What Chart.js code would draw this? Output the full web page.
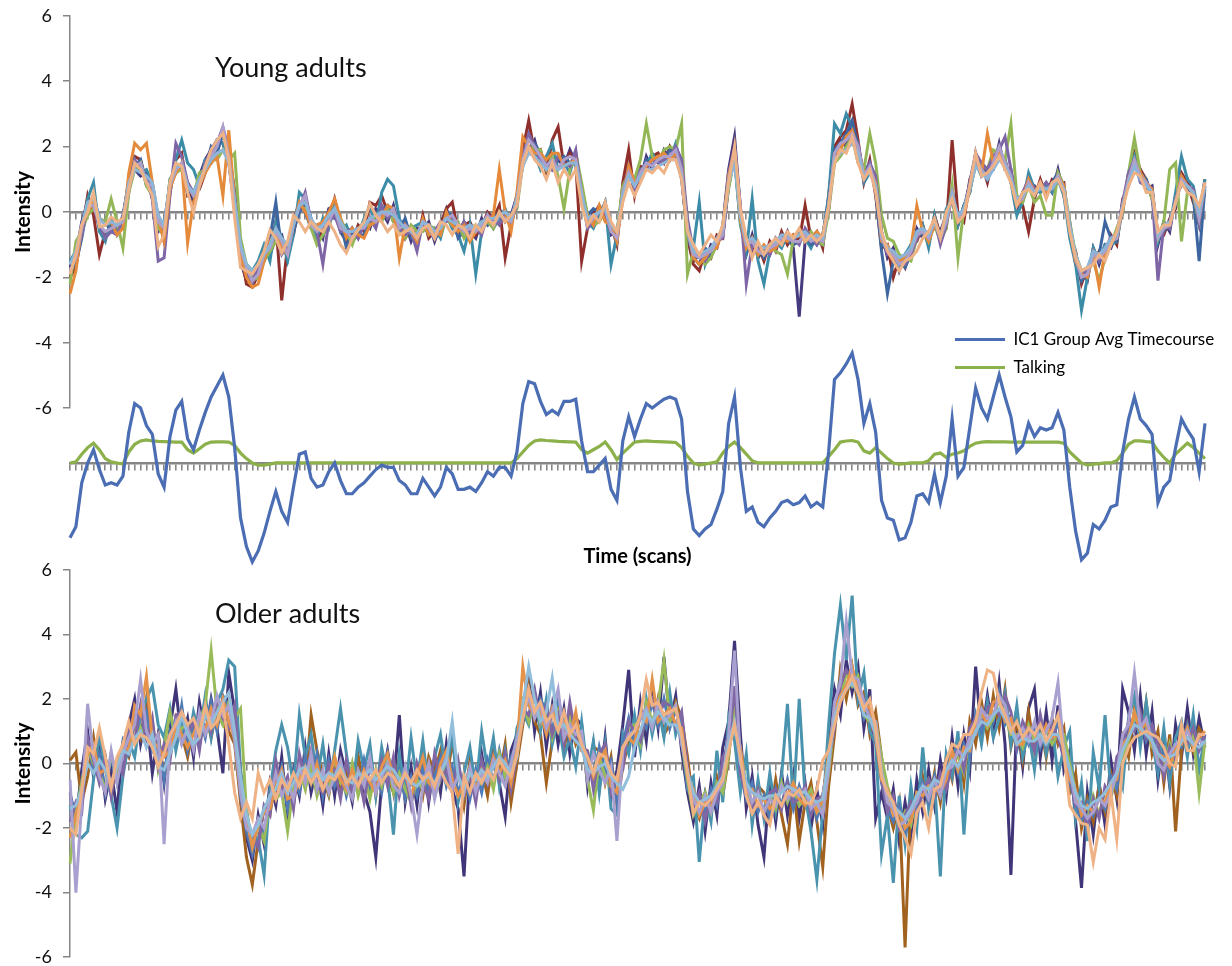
<!DOCTYPE html>
<html>
<head>
<meta charset="utf-8">
<title>IC1 timecourses</title>
<script src="https://cdn.jsdelivr.net/npm/chart.js@4.4.0/dist/chart.umd.min.js"></script>
<style>
  html, body { margin: 0; padding: 0; background: #ffffff; overflow: hidden; }
  canvas { position: absolute; left: 0; }
  #youngChart { top: -6px; }
  #ic1Chart { top: 320px; }
  #olderChart { top: 548px; }
</style>
</head>
<body>
<canvas id="youngChart" width="1232" height="436"></canvas>
<canvas id="ic1Chart" width="1232" height="249"></canvas>
<canvas id="olderChart" width="1232" height="431"></canvas>
<script>
"use strict";

// group average IC1 timecourse and the talking regressor (middle panel)
const ic1Avg = [
  -3.4,-2.9,-0.9,0,0.6,-0.3,-1.0,-0.9,-1.0,-0.6, 1.4,2.7,2.5,1.7,1.3,-0.5,-1.1,1.2,2.4,2.8,
  1.1,0.6,1.5,2.3,3.0,3.5,4.0,3.0,0.7,-2.5, -3.8,-4.5,-4.0,-3.2,-2.2,-1.3,-2.2,-2.7,-1.1,0.4,
  0.5,-0.7,-1.1,-1.0,-0.4,0,-0.8,-1.4,-1.4,-1.1, -0.9,-0.6,-0.3,-0.1,-0.2,-0.2,-0.8,-1.0,-1.4,-1.4,
  -0.7,-1.1,-1.5,-1.1,-0.2,-0.5,-1.2,-1.2,-1.1,-1.3, -0.9,-0.4,-0.6,-0.2,-0.2,-0.6,0.5,2.7,3.7,3.6,
  2.8,2.2,2.4,2.2,2.8,2.8,2.9,1.0,-0.4,-0.4, -0.1,0.2,-1.2,-1.7,1.0,2.1,1.2,2.0,2.7,2.5,
  2.7,2.9,3.0,2.9,2.0,-1.3,-3.0,-3.3,-3.0,-2.8, -2.1,-1.3,1.8,3.0,-0.2,-2.2,-2.0,-2.7,-2.9,-2.5,
  -2.2,-1.8,-1.7,-1.9,-1.8,-1.5,-2.0,-1.8,-2.0,0.5, 3.8,4.1,4.5,5.0,3.8,1.8,2.7,1.4,-1.7,-2.5,
  -2.6,-3.5,-3.4,-2.7,-1.5,-1.4,-1.8,-0.5,-1.8,-0.6, 2.0,-0.6,-0.2,1.6,3.4,2.5,2.0,3.0,4.0,3.0,
  2.1,0.5,0.8,1.8,1.2,1.6,1.5,1.6,2.3,1.5, -1.1,-3.1,-4.4,-4.1,-2.8,-3.0,-2.6,-2.0,-1.9,0.5,
  2.0,3.0,2.0,1.7,1.3,-1.8,-1.1,-0.8,0.7,2.0, 1.5,1.1,-0.4,1.8
];
const talking = [
  0,0.05,0.4,0.7,0.9,0.6,0.2,0.05,0,-0.05, 0.5,0.85,1.0,1.05,1.0,0.98,0.97,0.96,0.95,0.95,
  0.6,0.45,0.65,0.85,0.95,0.96,0.96,0.95,0.8,0.45, 0.2,0,-0.1,-0.1,-0.05,0,0,0,0,0,
  0,0,0,0,0,0,0,0,0,0, 0,0,0,0,0,0,0,0,0,0,
  0,0,0,0,0,0,0,0,0,0, 0,0,0,0,0,0,0.2,0.5,0.8,1.0,
  1.05,1.02,1.0,0.98,0.97,0.96,0.95,0.6,0.45,0.6, 0.75,0.95,0.6,0.15,0.45,0.7,0.95,0.98,1.0,0.98,
  0.97,0.96,0.95,0.93,0.7,0.3,0,-0.1,-0.05,0, 0.05,0.45,0.75,0.95,0.7,0.4,0.1,0,0,0,
  0,0,0,0,0,0,0,0,0,0.3, 0.6,0.95,1.0,1.02,0.95,0.55,0.45,0.7,0.45,0.2,
  0,-0.05,-0.03,0,0,0,0.1,0.4,0.45,0.25, 0.4,0.45,0.55,0.75,0.9,0.95,0.97,0.96,0.96,0.96,
  0.95,0.95,0.95,0.95,0.95,0.95,0.95,0.95,0.95,0.9, 0.5,0.25,0,-0.1,-0.05,-0.03,0,0,0.1,0.45,
  0.85,1.0,1.0,0.97,0.95,0.55,0.25,0,0.4,0.65, 0.9,0.7,0.45,0.2
];

// young adults, one array per subject
const young1 = [
  -1.7,-1.3,-0.3,0.3,0.2,-0.5,-0.7,-0.4,-0.6,-0.1, 0.9,1.3,1.1,1.2,0.4,-0.6,-0.4,0.9,1.2,1.4,
  0.9,0.2,1.1,1.6,1.9,2.2,2.1,1.5,0.1,-1.5, -2.1,-1.9,-1.6,-1.2,-1.3,-0.8,-0.7,-1.4,-0.3,0.3,
  0.0,-0.5,-0.4,-0.8,0.1,0.2,-0.6,-0.9,-0.5,-0.8, -0.3,-0.5,0.1,0.0,-0.3,0.2,-0.6,-0.3,-0.9,-0.5,
  -0.5,-0.3,-0.9,-0.4,0.1,-0.4,-0.7,-0.3,-0.6,-0.8, -0.2,-0.4,-0.1,0.1,-0.3,-0.1,0.5,1.8,1.9,2.2,
  1.5,1.6,1.3,1.6,1.4,1.9,1.5,0.8,-0.4,0.0, -0.2,0.3,-0.7,-0.6,0.4,1.5,0.6,1.0,1.7,1.3,
  1.4,1.9,1.6,2.0,1.4,-0.4,-1.5,-1.3,-1.5,-1.0, -1.1,-0.4,1.3,2.3,0.1,-1.3,-0.7,-1.4,-1.1,-1.3,
  -0.8,-1.0,-0.6,-1.1,-3.2,-0.9,-0.7,-1.0,-0.7,0.4, 1.6,2.2,2.0,2.7,1.8,1.3,1.2,1.0,-0.6,-1.4,
  -1.1,-1.8,-1.3,-1.4,-0.5,-0.8,-0.6,-0.5,-0.6,-0.1, 0.4,-0.4,0.2,0.6,1.8,1.1,1.3,1.3,2.1,1.3,
  1.3,0.1,0.6,0.7,0.8,0.6,0.9,0.6,1.3,0.5, -0.3,-1.6,-1.8,-2.1,-1.1,-1.6,-1.0,-1.1,-0.6,0.0,
  1.2,1.4,1.3,0.7,0.8,-1.0,-0.3,-0.6,0.5,0.8, 1.0,0.4,-0.4,0.7
];
const young2 = [
  -2.0,-1.7,-0.6,0.5,-0.1,-1.3,-0.6,-0.6,-0.4,-0.5, 0.6,1.7,1.6,0.9,0.6,-0.1,-0.9,0.6,1.6,1.8,
  0.5,0.6,0.7,1.2,1.7,2.1,2.4,1.9,0.6,-1.1, -2.2,-2.3,-1.9,-1.2,-1.1,-0.3,-2.7,-1.0,-0.7,0.3,
  0.1,-0.2,-0.8,-0.6,-0.3,0.4,-0.3,-0.5,-0.9,-0.4, -0.6,0.3,0.2,0.5,0.0,-0.2,-0.3,-0.8,-0.5,-0.9,
  -0.1,-0.8,-0.6,-0.4,0.1,0.3,-0.6,-0.4,-0.3,-0.7, -0.5,0.0,-0.2,0.2,-1.4,-0.4,0.4,1.9,2.8,1.8,
  1.9,1.2,2.2,2.6,1.4,1.8,1.5,-1.5,-0.5,-0.1, 0.2,-0.1,-0.4,-1.0,0.9,1.9,0.5,1.4,1.3,1.7,
  1.8,1.5,2.0,1.7,1.1,-0.8,-1.6,-1.8,-1.2,-1.4, -0.7,-0.8,0.8,1.7,-0.3,-0.9,-1.2,-1.0,-1.5,-0.9,
  -1.2,-0.6,-1.0,-0.7,-0.9,0.2,-0.8,-0.6,-1.1,0.5, 2.0,2.3,2.5,3.3,2.2,0.9,1.6,0.5,-1.1,-1.0,
  -2.0,-1.4,-1.7,-1.0,-0.9,-0.4,-1.0,-0.1,-0.7,-0.5, 2.2,-0.1,-0.3,1.0,1.4,1.5,0.9,1.7,1.8,1.6,
  0.9,0.5,0.2,-0.6,0.4,1.0,0.5,1.0,0.9,0.9, -0.7,-1.2,-2.2,-1.7,-1.5,-1.2,-1.4,-0.7,-1.0,0.4,
  0.8,1.8,1.3,1.0,0.4,-0.6,-0.7,-0.2,0.1,1.2, 0.9,0.3,-0.1,1.0
];
const young3 = [
  -1.5,-1.2,-0.6,0.4,0.9,-0.6,-0.9,-0.2,-0.7,-0.4, 0.7,1.6,1.2,1.3,0.9,-0.2,-0.4,0.6,1.6,2.2,
  1.5,1.3,0.8,1.6,1.5,2.2,2.1,1.6,0.2,-1.4, -1.6,-1.8,-1.5,-1.0,-1.5,-0.3,-0.8,-1.5,-0.7,0.6,
  0.4,-0.2,-0.8,-0.2,-0.5,0.3,-0.6,-0.4,-0.9,-0.7, -0.2,0.2,-0.4,0.6,1.0,0.8,-0.2,-0.6,-0.5,-0.4,
  -0.3,-0.7,-0.5,-0.8,-0.1,-0.5,-0.7,-1.2,-0.4,-1.9, -0.6,-0.1,-0.5,-0.2,0.1,-0.4,0.5,1.4,2.0,1.8,
  1.3,1.7,2.1,1.3,1.5,1.2,1.8,0.4,-0.3,-0.5, -0.1,0.3,-1.6,-0.7,0.5,1.0,1.0,1.3,1.4,1.8,
  1.5,1.8,1.6,2.1,1.3,-0.5,-1.1,0.3,-1.6,-1.1, -1.0,-0.5,1.1,1.6,-0.4,-1.2,0.4,-1.5,-2.2,-1.2,
  -0.9,-1.1,-0.7,-0.8,-0.6,-0.8,-1.1,-0.7,-0.8,0.5, 2.7,2.4,3.0,2.6,2.1,0.9,1.2,1.0,-1.0,-1.1,
  -1.4,-1.7,-1.3,-1.0,-0.8,-0.4,-1.1,-0.1,-0.9,0.1, 0.4,-0.4,0.2,0.6,1.5,1.1,1.2,1.4,1.7,1.6,
  0.9,-0.1,0.3,1.2,0.7,0.6,0.8,0.6,1.0,0.5, -0.8,-1.6,-3.0,-2.0,-1.1,-1.5,-1.0,-1.0,-0.9,0.1,
  1.1,1.7,1.0,0.8,0.7,-0.9,-0.3,-0.5,0.6,1.7, 1.0,0.8,-0.1,1.0
];
const young4 = [
  -1.8,-1.6,-0.8,0.2,0.5,-0.2,-0.3,-0.6,-0.4,-0.2, 1.0,1.4,1.6,0.8,0.8,-0.4,-0.7,1.0,1.3,1.5,
  0.6,0.6,1.0,1.3,2.0,1.8,2.4,1.7,0.6,-1.3, -1.9,-2.0,-1.6,-1.5,-0.8,0.3,-1.2,-1.0,-0.6,0.0,
  0.3,-0.4,-0.5,-0.6,-0.1,-0.2,-0.3,-1.1,-0.6,-0.7, -0.7,-0.2,-0.3,0.1,0.2,-0.3,-0.5,-0.2,-0.8,-0.9,
  -0.4,-0.6,-0.8,-0.6,0.0,-0.1,-0.8,-0.6,-0.7,-0.5, -0.3,-0.4,-0.2,0.0,-0.2,-0.1,0.2,1.7,2.2,2.1,
  1.8,1.4,1.4,1.6,1.7,1.5,1.5,0.7,-0.1,0.1, 0.0,0.2,-0.4,-0.9,0.7,1.1,0.9,1.1,1.6,1.4,
  1.7,1.6,1.9,1.8,1.0,-0.7,-1.4,-1.6,-1.1,-1.3, -0.8,-0.7,0.9,1.9,0.0,-0.9,-1.0,-1.1,-1.4,-1.0,
  -1.1,-0.7,-0.9,-1.0,-0.9,-0.6,-1.0,-0.9,-1.0,0.3, 1.9,2.1,2.4,2.8,2.0,1.2,1.5,0.6,-1.2,-2.5,
  -1.5,-1.4,-1.7,-1.3,-0.6,-0.7,-0.7,-0.4,-0.7,-0.2, 0.7,-0.3,0.1,0.9,1.7,1.4,1.0,1.6,2.0,1.4,
  1.2,0.4,0.5,0.8,0.5,0.9,0.6,0.9,1.2,0.8, -0.6,-1.3,-2.1,-1.8,-1.4,-1.3,-0.3,-0.8,-0.9,0.3,
  0.9,1.5,1.2,1.0,0.5,-0.7,-0.6,-0.3,0.2,1.1, 0.7,0.5,-1.5,0.8
];
const young5 = [
  -2.2,-0.9,-0.6,-0.1,0.1,-0.2,-0.3,0.4,-0.3,-1.1, 0.6,1.3,1.5,0.8,0.5,-0.5,-0.7,1.0,1.2,1.3,
  0.9,0.5,1.2,1.3,1.6,1.6,1.9,1.6,1.8,-0.8, -1.6,-2.1,-2.0,-1.5,-1.2,-0.9,-0.8,-1.1,-0.4,0.2,
  0.1,-0.5,-1.0,-0.7,-0.4,0.1,-0.2,-0.6,-1.0,-0.5, -0.4,-0.4,-0.1,-0.3,0.1,-0.3,-0.6,-0.8,-0.4,-0.6,
  -0.6,-0.4,-0.5,-0.7,-0.2,-0.4,-0.3,-0.8,-0.5,-0.4, -0.5,-0.3,-0.5,0.0,-0.3,-0.2,0.1,1.5,2.3,1.9,
  1.9,1.3,1.7,1.1,0.1,1.3,1.8,0.9,-0.1,-0.4, -0.3,0.0,-0.6,-0.6,0.8,1.2,1.0,1.6,2.7,1.7,
  1.5,1.9,2.0,1.9,2.7,-1.9,-1.2,-1.3,-1.6,-1.4, -1.0,-0.4,0.7,1.7,-0.3,-1.1,-0.8,-1.3,-1.2,-1.0,
  -1.2,-1.3,-1.9,-0.8,-0.7,-0.8,-0.6,-0.9,-1.0,0.0, 1.5,1.7,2.0,2.3,1.5,1.3,2.4,1.5,-0.1,-0.8,
  -0.9,-1.3,-1.4,-1.5,-0.8,-0.5,-0.9,-0.4,-0.9,-0.5, 0.8,-1.4,0.1,0.7,1.4,1.5,1.3,1.9,1.8,1.6,
  2.7,0.5,0.3,0.8,0.3,0.5,-0.1,-0.1,1.2,0.8, -0.3,-1.3,-1.8,-1.7,-1.5,-2.1,-1.4,-1.0,-0.5,0.0,
  1.2,2.25,1.2,0.9,0.4,-0.8,-0.3,1.3,1.5,-0.9, 0.6,0.5,-0.3,0.8
];
const young6 = [
  -1.6,-1.4,-0.7,0.2,0.4,-0.4,-0.8,-0.6,-0.7,-0.2, 0.9,1.6,1.3,1.1,0.4,-1.5,-1.4,0.5,2.1,1.7,
  0.9,0.6,0.8,1.5,1.9,2.1,2.6,1.9,0.5,-1.4, -1.9,-2.2,-1.7,-1.3,-0.9,-0.7,-1.3,-1.0,-0.3,0.1,
  0.6,-0.3,-0.6,-1.6,-0.3,-0.1,-0.6,-0.6,-0.5,-0.8, -0.4,-0.2,-0.5,0.2,-0.2,0.0,-0.5,-0.7,-0.6,-1.2,
  -0.3,-0.4,-0.6,-0.3,-0.3,-0.1,-0.6,-0.3,-0.6,-0.5, -0.7,-0.1,-0.2,-0.4,0.0,-0.3,0.2,1.7,2.4,2.0,
  1.6,1.5,1.3,1.7,1.5,1.4,1.9,0.5,-0.5,-0.3, 0.1,-0.1,-0.6,-0.7,0.5,1.4,0.7,1.3,1.3,1.6,
  1.5,1.6,1.7,2.0,1.6,-0.2,-1.2,-1.4,-1.5,-1.1, -0.9,-0.8,1.2,2.0,0.2,-2.2,-1.0,-1.1,-1.1,-1.3,
  -0.9,-0.9,-0.7,-0.8,-1.0,-0.5,-0.8,-1.0,-0.7,0.1, 1.7,1.9,2.3,2.2,2.1,1.0,1.5,1.1,-0.6,-1.3,
  -1.2,-1.5,-1.6,-1.3,-0.8,-0.5,-0.7,-0.2,-1.0,-0.4, 0.5,-0.1,0.0,0.9,1.8,1.5,1.3,1.7,1.9,2.3,
  1.3,0.2,0.6,1.0,0.7,0.7,0.9,0.7,1.0,0.6, -0.4,-1.5,-1.9,-1.8,-1.2,-1.5,-1.1,-0.8,-0.7,0.3,
  1.2,1.6,0.9,0.8,0.6,-2.1,-0.4,-0.5,0.4,0.9, 0.8,0.7,-0.3,0.8
];
const young7 = [
  -2.5,-1.8,-0.4,0.0,0.3,-0.2,-0.4,-0.3,-0.7,-0.5, 1.2,2.1,1.9,2.1,0.9,-0.2,-0.9,0.7,1.2,1.5,
  -0.95,0.3,0.8,1.2,1.5,1.7,0.5,2.5,0.3,-1.3, -2.0,-2.3,-2.2,-1.5,-0.9,-0.6,-1.1,-1.3,-0.4,0.3,
  0.0,-0.4,-0.4,-0.3,0.0,0.4,-0.2,-0.8,-0.5,-0.7, -0.8,-0.4,-0.3,-0.2,0.2,0.1,-1.4,-0.4,-0.6,-0.9,
  -0.2,-0.7,-0.6,-0.7,0.0,-0.4,-0.6,-0.4,-0.9,-0.6, -0.3,-0.3,-0.1,1.3,0.0,-0.6,0.6,2.3,2.0,1.8,
  1.8,1.6,1.8,1.8,1.4,1.5,1.6,0.3,-0.1,-0.4, 0.2,-0.3,-0.4,-0.9,0.4,1.4,0.9,1.0,1.4,1.6,
  1.7,1.8,1.6,1.8,1.3,-0.5,-1.4,-1.6,-1.4,-1.1, -1.1,-0.5,1.1,1.9,-0.2,-1.1,-0.8,-1.3,-1.0,-1.2,
  -1.1,-0.8,-0.9,-0.7,-0.7,-0.9,-0.8,-0.6,-0.8,0.1, 1.8,1.9,2.3,2.5,1.9,1.2,1.3,0.9,-0.9,-1.0,
  -1.4,-1.5,-1.4,-1.1,0.2,-0.6,-0.9,-0.4,-0.7,-0.3, 0.5,-0.3,-0.1,0.7,1.6,1.2,2.4,1.5,1.8,1.5,
  1.0,0.2,0.4,1.0,0.6,0.9,0.6,0.8,1.1,0.8, -0.5,-1.5,-1.9,-2.0,-1.3,-2.3,-1.2,-0.9,-0.8,0.1,
  1.0,1.5,1.2,0.9,0.7,-0.7,-0.5,-0.4,0.3,1.1, 0.8,0.6,-0.1,0.9
];
const young8 = [
  -1.8,-1.4,-0.5,0.2,0.2,-0.4,-0.6,-0.5,-0.4,-0.3, 0.7,1.4,1.5,0.9,0.8,-0.3,-0.5,0.8,1.3,1.5,
  0.8,0.5,0.8,1.4,1.7,2.0,2.6,1.7,0.3,-1.1, -1.7,-2.1,-1.9,-1.3,-1.1,-0.6,-0.9,-1.3,-0.4,0.2,
  0.5,-0.4,-0.6,-0.4,-0.3,0.1,-0.5,-0.6,-0.8,-0.5, -0.5,-0.2,-0.3,0.0,-0.1,0.1,-0.5,-0.4,-0.6,-0.8,
  -0.3,-0.5,-0.8,-0.4,-0.2,-0.1,-0.4,-0.6,-0.5,-0.6, -0.4,-0.1,-0.4,-0.1,-0.2,-0.3,0.4,1.6,2.2,2.0,
  1.7,1.4,1.6,1.3,1.6,1.7,1.6,0.6,-0.4,-0.2, 0.0,0.1,-0.6,-0.8,0.6,1.2,0.8,1.2,1.5,1.4,
  1.6,1.7,1.7,1.9,1.3,-0.6,-1.3,-1.4,-1.3,-1.2, -0.9,-0.7,1.0,1.8,-0.1,-1.0,-0.9,-1.2,-1.3,-1.1,
  -1.0,-0.8,-0.8,-0.9,-0.9,-0.7,-0.9,-0.8,-0.9,0.2, 1.8,2.1,2.2,2.4,2.0,1.1,1.4,0.8,-0.8,-1.2,
  -1.3,-1.6,-1.5,-1.2,-0.7,-0.6,-0.8,-0.3,-0.8,-0.3, 0.6,-0.2,0.0,0.8,1.6,1.3,1.1,1.5,2.0,1.5,
  1.1,0.3,0.4,0.9,0.6,0.8,0.7,0.8,1.1,0.7, -0.5,-1.4,-2.0,-1.9,-1.3,-1.4,-1.2,-0.9,-0.8,0.2,
  1.0,1.6,1.1,0.9,0.6,-0.8,-0.5,-0.4,0.3,1.0, 0.8,0.6,-0.2,0.9
];
const young9 = [
  -1.6,-1.2,-0.4,0.3,0.4,-0.2,-0.4,-0.3,-0.4,-0.2, 0.9,1.3,1.2,1.1,0.9,-0.1,-0.4,0.9,1.4,1.4,
  0.8,0.6,1.0,1.3,1.6,1.8,1.9,1.5,0.3,-1.0, -1.6,-1.8,-1.6,-1.3,-1.0,-0.5,-0.8,-1.0,-0.4,0.2,
  0.3,-0.2,-0.5,-0.4,-0.1,0.1,-0.3,-0.6,-0.6,-0.5, -0.4,-0.2,-0.1,0.0,0.0,-0.1,-0.3,-0.5,-0.6,-0.7,
  -0.3,-0.4,-0.6,-0.5,-0.2,-0.3,-0.4,-0.5,-0.4,-0.5, -0.3,-0.2,-0.2,-0.1,0.0,-0.2,0.4,1.4,1.8,1.7,
  1.5,1.3,1.4,1.3,1.4,1.5,1.5,0.5,-0.2,-0.1, 0.0,0.1,-0.4,-0.6,0.5,1.1,0.8,1.1,1.3,1.3,
  1.4,1.5,1.6,1.6,1.1,-0.5,-1.2,-1.3,-1.2,-1.1, -0.8,-0.5,0.9,1.5,-0.1,-0.9,-0.8,-1.0,-1.1,-1.0,
  -0.9,-0.7,-0.7,-0.8,-0.7,-0.6,-0.8,-0.7,-0.8,0.2, 1.6,1.8,1.9,2.1,1.8,1.1,1.2,0.8,-0.7,-1.1,
  -1.2,-1.4,-1.3,-1.1,-0.6,-0.5,-0.7,-0.3,-0.7,-0.2, 0.5,-0.1,0.1,0.7,1.4,1.2,1.0,1.3,1.6,1.4,
  1.0,0.4,0.5,0.8,0.6,0.7,0.7,0.7,1.0,0.7, -0.4,-1.3,-1.8,-1.7,-1.2,-1.3,-1.1,-0.8,-0.7,0.2,
  0.9,1.4,1.0,0.8,0.6,-0.7,-0.4,-0.3,0.3,0.9, 0.8,0.6,0.0,0.8
];
const young10 = [
  -1.9,-1.3,-0.4,0.0,0.6,-0.45,-0.4,-0.15,-0.3,-0.2, 0.7,1.5,1.3,0.9,0.5,-1.05,-0.7,0.9,1.5,1.4,
  0.6,0.0,0.8,1.4,1.9,2.2,2.4,1.6,-0.2,-1.7, -1.8,-1.9,-1.6,-1.2,-0.55,-0.8,-1.25,-0.9,-0.1,-0.3,
  -0.6,-0.3,-0.5,-0.6,-0.3,-0.6,-1.0,-1.25,-0.8,-0.55, -0.3,0.25,-0.1,-0.3,-0.6,-0.4,-0.7,-0.6,-0.5,-0.8,
  -0.5,-0.4,-0.8,-0.3,-0.4,-0.7,-0.4,-0.5,-0.8,-0.4, -0.6,-0.2,-0.4,0.0,-0.3,-0.1,0.2,1.5,2.0,1.6,
  1.4,1.0,1.5,0.9,1.3,1.0,1.3,0.2,-0.4,-0.1, -0.3,0.3,-0.3,-0.6,0.3,0.9,0.5,0.9,1.3,1.2,
  1.4,1.2,1.6,1.6,1.0,-0.6,-1.0,-1.3,-1.0,-0.7, -0.9,-0.4,0.9,2.0,0.1,-0.8,-1.4,-0.9,-1.3,-1.0,
  -0.8,-1.0,-0.6,-0.8,-0.5,-0.9,-0.7,-0.9,-0.7,0.2, 1.5,1.9,1.8,2.3,1.5,1.0,1.3,0.6,-0.6,-1.2,
  -1.5,-1.8,-1.5,-1.4,-1.2,-0.8,-0.6,-0.2,-0.8,0.0, 0.4,-0.3,-0.1,0.8,1.8,1.1,1.2,1.4,1.7,1.3,
  0.9,0.2,0.6,0.7,0.5,0.9,0.4,0.9,1.0,0.6, -0.6,-1.4,-1.8,-1.7,-1.6,-1.3,-1.5,-1.0,-0.6,0.1,
  0.8,1.2,1.1,0.6,0.6,-0.6,-0.4,-0.4,0.3,0.9, 0.6,0.5,0.2,0.9
];

// older adults, one array per subject
const older1 = [
  -0.9,-1.8,-0.2,1.0,-0.4,0.5,-1.1,-0.2,-1.5,0.6, 1.2,2.0,0.6,1.5,-0.3,0.9,-0.6,1.1,2.3,0.7,
  1.4,0.2,1.9,0.9,2.0,1.1,-0.3,2.8,1.6,-1.1, -2.3,-3.0,-1.6,-2.5,-0.6,-1.3,0.2,-1.6,-0.2,-1.0,
  0.5,-0.9,-0.1,-1.3,0.3,-1.0,0.4,-0.4,-1.2,0.2, -0.9,-1.5,-2.9,-0.6,0.4,-0.8,1.5,-1.2,-0.1,-1.3,
  0.3,-1.2,0.1,-0.9,0.6,-0.8,-1.4,-3.5,-0.2,-1.0, 0.3,-0.8,0.5,-0.6,-1.65,0.4,0.9,1.8,2.7,1.0,
  2.2,0.5,1.8,0.6,1.7,0.3,1.4,1.2,-0.7,0.6, -0.8,0.8,-1.1,-0.2,1.2,2.9,0.2,1.9,0.7,2.4,
  1.1,3.3,1.2,2.1,0.4,-0.9,-1.8,-0.7,-2.1,-0.6, -1.6,0.5,1.3,3.8,0.9,-1.4,-0.4,-1.9,-2.9,-0.6,
  -1.8,-0.3,-1.6,-0.4,-1.7,-0.6,-2.0,-0.8,-1.9,0.7, 2.3,1.5,3.2,2.2,3.0,1.1,2.3,-1.7,-0.9,-1.7,
  -0.8,-2.4,-1.2,-2.3,-0.5,-1.5,-0.2,-1.3,0.1,-1.0, 0.8,-0.7,0.9,-0.2,3.0,0.8,2.1,0.9,2.5,0.6,
  -3.45,1.4,-0.1,1.7,2.3,0.2,1.6,0.1,1.8,-0.2, 0.4,-1.8,-3.85,-0.9,-2.2,-0.6,-1.9,0.1,-1.1,2.3,
  1.6,0.4,2.1,0.3,1.6,-0.5,0.9,-0.7,1.2,0.2, 1.7,0.3,1.4,0.5
];
const older2 = [
  0.1,0.35,-1.2,-0.4,0.8,-0.5,0.2,-0.9,0.0,0.5, 0.2,1.3,0.8,2.0,0.5,0.9,-0.4,0.2,1.4,0.9,
  0.2,1.2,0.6,1.6,0.8,1.7,1.2,1.0,0.6,-1.2, -2.9,-3.75,-2.4,-1.4,-1.6,-0.2,-0.9,-0.5,-1.3,0.1,
  -0.7,1.5,0.4,-0.4,-1.0,0.1,-0.8,-0.2,-1.0,0.2, -0.6,0.1,-1.0,0.3,-0.4,-0.9,0.2,-1.1,-0.6,-0.2,
  -1.0,0.2,-0.3,0.4,-0.5,0.6,-0.2,-1.3,0.1,-0.9, -0.2,-1.0,0.3,-0.4,0.6,-1.2,0.0,1.2,2.4,1.3,
  0.9,-0.6,0.7,1.8,0.4,1.5,0.6,1.0,-0.4,0.5, 0.4,-0.6,0.2,-1.3,-0.1,0.7,1.3,0.5,1.8,1.0,
  2.0,0.9,1.2,1.9,1.4,0.2,-1.3,-1.7,-0.9,-1.6, -0.4,-1.0,0.2,1.9,-0.3,-0.5,-1.6,-0.7,-0.9,-1.7,
  -0.5,-1.6,-2.5,-0.7,-2.4,-1.2,-0.6,-1.8,-3.2,-0.7, 0.9,2.9,2.0,3.0,1.8,2.2,0.9,1.6,0.2,-1.3,
  -2.0,-1.2,-5.7,-1.0,-1.6,-0.4,-1.3,-0.3,-1.2,0.2, -0.5,0.7,-0.6,1.3,0.6,1.9,0.8,2.1,1.1,2.3,
  0.5,1.3,0.1,1.6,0.4,1.2,0.2,1.4,0.6,1.1, -0.9,-0.3,-2.0,-1.1,-1.8,-0.7,-1.5,-0.3,-1.0,0.8,
  0.2,1.7,0.7,1.9,0.3,1.0,-0.6,0.9,-2.1,0.4, 1.2,0.4,1.1,0.8
];
const older3 = [
  -1.3,-2.2,-2.3,-2.1,-0.5,0.9,-0.2,-1.0,-2.0,-0.4, 0.7,0.2,1.5,2.0,2.4,1.2,0.8,1.7,0.4,1.3,
  0.5,1.6,0.9,2.1,0.8,1.9,2.3,3.2,3.0,-0.2, -1.4,-2.6,-2.3,-3.45,-0.8,0.4,1.2,0.5,-0.7,1.5,
  0.2,0.9,-0.5,0.6,-0.8,0.4,1.7,0.3,-0.9,0.7, -0.2,0.6,-1.0,0.5,-0.4,-2.2,0.3,-0.9,0.8,-0.6,
  0.7,-0.8,0.2,0.9,-0.4,1.0,-1.2,-0.3,0.5,-0.8, 1.0,-0.2,0.8,-0.7,0.4,-0.6,1.1,1.6,1.2,2.2,
  1.0,2.0,0.6,1.4,0.2,0.8,-0.1,1.3,-0.3,0.7, -0.9,0.6,-1.4,-1.6,0.9,0.3,1.5,0.4,2.0,0.9,
  1.8,0.8,2.2,0.9,1.5,-0.6,-0.4,-3.05,-1.0,-1.8, 0.4,-1.2,1.4,0.7,-0.9,0.3,-1.9,-0.5,-1.7,-0.3,
  -1.5,-0.4,1.85,-1.3,2.0,-1.0,-2.1,-3.6,-1.5,1.2, 3.4,4.9,3.2,5.2,2.0,2.8,1.0,0.6,-2.8,-1.6,
  -3.7,-1.0,-2.5,-0.7,-2.0,0.5,-1.4,-0.5,-3.5,0.3, -0.4,1.0,-2.2,0.4,1.5,0.6,1.9,0.8,1.4,2.2,
  0.6,1.8,0.2,1.0,-0.2,1.4,0.3,1.2,-0.4,0.5, 1.0,-1.7,-0.6,-2.4,0.35,-0.8,1.5,-0.9,0.0,-0.7,
  1.4,2.1,0.5,1.9,0.7,-0.3,1.1,-0.6,0.8,1.3, 0.2,1.5,-0.2,0.9
];
const older4 = [
  -1.1,-1.4,-0.6,0.6,-0.2,0.3,-0.9,0.2,-0.6,0.7, 0.3,1.4,0.9,1.6,0.4,0.8,-0.5,1.0,0.7,1.8,
  0.4,1.1,1.4,0.8,1.9,1.0,2.1,1.7,1.2,-1.0, -2.1,-2.8,-1.8,-2.2,-0.9,-0.8,-0.1,-1.4,-0.5,-0.9,
  0.2,-0.6,0.3,-1.0,0.1,-0.7,-0.1,-1.0,-0.3,-0.9, 0.1,-0.8,-0.3,-0.9,0.3,-0.6,-0.2,-1.1,-0.4,-1.0,
  -0.1,-0.9,-0.4,0.2,-0.7,-0.1,-0.9,-0.4,-1.1,-0.2, -0.9,0.1,-0.6,0.4,-0.5,0.2,0.6,1.3,2.3,1.5,
  2.0,1.6,1.0,2.0,1.3,0.7,1.5,0.4,0.3,-0.6, 0.5,-0.3,0.1,-1.2,0.6,1.4,0.5,1.6,1.1,1.9,
  1.2,2.0,1.1,1.7,0.8,-0.8,-1.2,-1.1,-1.6,-0.8, -1.3,-0.1,0.9,1.3,-0.2,-1.1,-0.6,-1.5,-1.0,-1.7,
  -0.8,-1.3,-0.5,-1.4,-0.7,-1.3,-0.9,-1.7,-1.0,0.2, 1.8,2.6,2.3,2.9,2.1,1.4,1.9,0.7,-0.6,-1.4,
  -1.8,-1.3,-2.2,-1.4,-1.4,-0.6,-1.2,-0.4,-1.0,-0.1, 0.4,-0.3,0.6,0.2,1.5,1.0,1.7,1.3,2.2,1.2,
  1.5,0.4,1.1,0.6,1.2,0.5,1.1,0.7,1.3,0.3, -0.6,-1.2,-1.8,-1.2,-1.6,-1.0,-1.4,-0.4,-0.8,0.6,
  1.1,1.2,1.5,0.7,1.1,-0.1,0.4,-0.2,0.6,0.5, 1.2,0.5,0.9,0.6
];
const older5 = [
  -3.1,-1.5,-0.6,0.5,0.0,-0.3,-0.8,0.3,-0.5,0.4, 0.9,0.6,1.1,0.7,1.3,-0.2,0.5,1.6,0.8,1.1,
  1.2,0.5,1.3,1.8,3.5,1.6,1.2,1.9,1.4,1.7, -1.5,-2.5,-1.9,-2.4,-1.0,-1.1,-0.9,-2.1,-0.7,-0.2,
  -0.8,-0.1,-1.0,-0.3,-0.9,0.2,-0.6,-0.9,0.0,-1.0, -0.3,-1.1,-0.2,-0.7,0.1,-0.9,-0.3,-0.8,-1.2,-0.5,
  -0.8,-0.2,-1.0,-0.5,0.2,-0.6,-0.3,-1.0,-0.4,-0.7, -0.6,-0.1,-0.8,0.3,-0.4,0.0,0.2,1.9,1.3,2.1,
  1.2,1.5,0.8,1.6,0.9,1.4,0.7,0.9,-0.5,-1.45, 0.2,-0.4,-0.8,-0.5,0.0,1.1,1.2,0.6,1.9,1.3,
  1.8,3.2,1.3,1.8,0.7,-0.5,-1.6,-1.2,-0.9,-1.5, -0.6,-0.9,0.3,1.9,0.4,-0.7,-1.3,-0.8,-1.6,-1.0,
  -1.4,-0.6,-1.2,-0.7,-1.3,-1.1,-0.8,-1.5,-1.4,-0.3, 1.3,2.0,2.8,2.4,2.7,1.5,1.3,1.3,0.2,-0.7,
  -1.3,-2.0,-1.5,-1.9,-0.9,-1.0,-0.5,-0.9,-0.4,-0.6, 0.3,0.2,-0.3,0.9,1.0,1.6,1.1,1.4,2.0,1.5,
  0.9,0.9,0.5,1.2,0.7,0.8,1.0,0.6,0.9,0.9, 0.0,-0.9,-1.3,-1.8,-1.0,-1.6,-0.8,-1.1,-0.2,0.2,
  0.7,1.5,1.0,1.2,0.5,0.4,-0.3,0.6,0.0,1.0, 0.6,0.9,-0.9,0.7
];
const older6 = [
  -1.8,-1.2,-1.5,0.8,0.1,-0.6,0.2,-1.0,0.1,-0.3, 1.1,0.7,1.8,0.6,1.4,-0.1,0.6,0.1,1.5,1.6,
  0.9,1.3,0.4,1.7,1.0,2.0,1.4,1.1,1.8,-0.4, -1.9,-2.2,-2.6,-1.3,-1.6,0.1,-0.8,-0.4,-1.4,0.3,
  -0.5,0.4,-0.7,-0.9,0.0,-0.2,-1.1,0.1,-0.9,-0.3, -1.2,0.0,-0.8,0.1,-0.7,0.2,-1.0,-0.2,-1.3,0.0,
  -0.6,-1.1,0.3,-0.5,-0.2,-0.9,0.1,-1.0,-0.3,-1.2, 0.1,-0.6,0.2,-0.5,0.3,-0.8,0.3,1.7,1.5,2.3,
  1.3,1.8,0.9,1.5,0.6,1.9,0.8,0.5,0.4,-0.8, 0.3,0.6,-0.9,-0.4,-0.2,1.3,1.0,0.7,1.6,2.0,
  1.4,1.9,1.8,1.1,1.6,-0.1,-1.4,-0.9,-1.8,-1.0, -1.2,0.2,0.5,2.4,-0.3,-1.0,-1.4,-0.8,-1.6,-0.9,
  -0.8,-1.4,-0.6,-1.2,-1.1,-0.7,-1.6,-1.1,-1.0,0.1, 1.1,2.4,2.9,2.6,2.3,2.0,1.4,0.8,-0.5,-1.5,
  -1.0,-2.0,-1.6,-1.2,-1.6,-0.9,-0.5,-1.0,-0.3,-0.8, 0.0,0.5,-0.2,1.1,1.4,1.2,1.7,1.9,1.5,2.1,
  1.6,0.5,1.3,0.9,0.4,1.5,0.6,1.2,0.8,0.2, -0.4,-1.3,-1.2,-2.0,-1.1,-1.7,-0.7,-1.0,0.2,0.5,
  1.3,1.0,1.6,0.8,1.2,0.6,-0.4,0.5,0.1,1.2, 0.6,1.1,0.4,0.9
];
const older7 = [
  -2.3,-1.6,-0.9,0.3,0.6,-0.3,-0.2,-0.7,-0.1,0.6, 0.4,1.8,1.5,2.7,0.7,0.5,0.2,0.4,1.2,0.9,
  0.5,0.9,1.4,1.0,1.7,1.2,2.0,1.3,0.8,-0.7, -1.7,-2.6,-1.9,-1.5,-1.4,-0.7,-0.2,-1.1,-1.0,-0.5,
  -0.1,-0.6,0.0,-0.8,-0.5,0.2,-0.5,-0.8,-0.2,-0.7, -0.2,-0.6,-0.9,-0.1,0.3,-0.5,-0.7,-0.3,-1.0,-0.4,
  0.2,-0.6,-0.8,0.0,0.4,-0.5,-1.0,-0.6,-0.2,-0.8, -0.2,-0.5,0.2,-0.3,0.1,-0.6,0.5,3.0,1.8,1.5,
  1.6,0.9,1.7,1.1,1.3,0.8,1.6,0.4,0.2,-0.4, 0.1,0.4,-0.7,-0.9,0.5,0.8,0.6,1.5,1.3,2.6,
  1.3,1.5,1.7,1.2,1.1,-0.4,-0.8,-1.6,-1.2,-1.4, -0.7,-0.5,0.8,1.2,0.5,-0.9,-0.8,-1.3,-1.1,-1.4,
  -1.2,-0.8,-1.0,-0.6,-1.1,-1.3,-1.0,-1.5,-1.1,0.3, 1.7,2.1,2.4,3.0,2.2,1.6,1.8,0.8,-0.5,-0.8,
  -1.6,-1.5,-2.0,-1.8,-0.9,-1.0,-0.7,-0.8,-0.9,-0.5, 0.4,-0.2,0.5,0.4,1.3,1.6,1.2,1.9,2.0,1.3,
  1.4,0.6,0.6,1.1,0.9,0.7,1.2,0.8,0.9,0.5, -0.5,-0.8,-1.6,-1.3,-1.5,-1.1,-1.2,-0.6,-0.5,0.6,
  0.8,1.6,1.0,1.3,0.6,0.3,0.2,-0.1,0.5,0.6, 1.1,0.5,0.8,1.0
];
const older8 = [
  -0.5,-4.0,-1.2,1.85,0.2,-0.4,-0.9,0.4,-0.6,0.3, 0.8,1.2,2.6,1.0,0.6,0.9,-2.5,0.8,1.3,0.6,
  1.1,0.4,1.6,0.9,1.3,2.1,1.5,1.8,0.7,-0.9, -2.0,-2.2,-1.7,-2.0,-1.1,-0.3,-1.0,-0.6,-1.1,-0.1,
  -0.6,0.3,-0.8,-0.2,-0.9,-0.4,0.1,-0.7,-1.1,-0.2, -0.7,0.2,-0.9,-0.4,0.0,-0.7,-0.9,-0.1,-1.0,-2.2,
  -0.7,0.0,-1.1,-0.3,0.2,-0.8,-0.4,-0.9,-0.1,-0.9, -0.3,-0.6,0.1,-0.3,-0.7,0.0,0.8,1.4,2.1,1.4,
  1.8,1.1,1.6,2.3,0.8,1.2,0.9,1.0,-0.5,0.3, -0.2,-0.6,-0.1,-2.4,0.4,0.9,1.0,1.4,1.7,1.1,
  1.9,1.3,1.5,1.8,0.6,-0.2,-1.1,-1.5,-1.0,-1.5, -0.9,-0.6,0.9,3.5,0.1,-0.6,-1.2,-0.9,-1.5,-1.1,
  -1.3,-0.7,-1.1,-0.8,-1.0,-0.8,-1.4,-1.2,-1.6,-0.2, 1.9,2.5,4.4,2.7,2.6,1.9,1.4,1.3,-0.2,-1.2,
  -1.4,-1.9,-1.8,-1.5,-1.2,-0.7,-1.1,-0.5,-1.0,-0.2, -0.1,0.4,0.2,0.8,0.9,1.7,1.4,1.5,2.1,1.8,
  1.0,0.8,1.1,0.7,1.3,0.6,1.0,1.4,2.5,0.4, -0.2,-1.2,-1.4,-1.7,-1.5,-1.1,-1.3,-0.9,-0.3,0.9,
  1.2,2.8,1.1,1.4,0.7,0.0,-0.2,0.3,0.6,0.7, 1.0,0.6,0.7,0.6
];
const older9 = [
  -1.4,-1.3,-0.8,0.0,-0.3,0.1,-0.2,-0.6,-0.1,0.4, 0.3,0.8,1.0,0.5,0.9,-0.1,-0.2,0.3,0.8,1.5,
  0.9,0.6,0.8,1.5,1.2,1.6,1.9,2.2,1.0,-0.4, -1.6,-2.2,-1.9,-1.4,-1.0,-0.8,-0.3,-0.9,-0.6,-0.2,
  -0.1,-0.4,-0.2,-0.5,-0.3,-0.4,-0.1,-0.5,-0.6,-0.3, -0.4,-0.2,-0.5,-0.3,-0.1,-0.2,-0.5,-0.4,-0.6,-0.7,
  -0.5,-0.4,-0.6,-0.3,0.1,1.3,-0.4,-0.8,-0.3,-0.5, -0.2,-0.4,-0.1,0.2,0.0,-0.3,0.2,1.8,3.0,2.0,
  1.3,1.6,2.65,1.1,1.2,0.9,0.7,0.5,-0.2,-0.3, -0.1,0.0,-0.4,-0.6,-0.8,-0.4,0.5,1.0,1.6,1.3,
  1.6,1.4,1.2,1.2,0.8,-0.3,-0.9,-1.2,-1.1,-1.0, -0.7,-0.4,0.6,1.3,0.0,-0.6,-0.9,-1.0,-1.1,-1.0,
  -1.0,-0.9,-0.7,-0.8,-0.9,-0.9,-1.1,-1.2,-1.1,0.1, 1.4,2.0,2.3,2.5,2.2,1.5,1.4,0.9,-0.3,-0.9,
  -1.3,-1.5,-1.7,-1.4,-1.0,-0.7,-0.8,-0.5,-0.6,-0.2, 0.1,-0.1,0.3,0.5,1.0,1.3,1.2,1.5,1.7,1.4,
  1.1,0.6,0.8,0.7,0.7,0.9,0.6,0.9,0.9,0.5, -0.2,-0.9,-1.3,-1.4,-1.2,-1.1,-0.9,-0.6,-0.3,0.4,
  0.8,1.2,1.1,0.9,0.7,0.3,0.1,0.2,0.3,0.7, 0.8,0.6,0.5,0.7
];
const older10 = [
  -2.0,-2.2,-0.8,0.5,0.3,1.1,0.2,-0.75,0.2,0.6, 1.3,0.6,0.9,0.8,0.5,-0.1,0.3,0.9,1.2,1.6,
  1.2,1.4,0.9,1.8,1.1,1.3,1.8,0.6,-0.9,-1.7, -1.2,-1.7,-0.3,-0.9,-0.5,-1.1,-0.5,-0.8,-0.3,-0.7,
  -0.2,-0.6,-0.3,-0.8,-0.4,-0.5,-0.2,-0.6,-0.4,-0.7, -0.3,-0.5,-0.2,-0.6,-0.3,-0.4,-0.7,-0.3,-0.6,-0.2,
  -0.5,-0.3,-0.7,-0.2,-0.6,-0.9,-2.8,-0.4,-0.9,-0.3, -0.6,-0.2,-0.5,0.1,-0.2,-0.4,0.3,1.4,2.3,1.6,
  1.9,1.3,1.5,1.0,1.6,0.9,1.2,0.6,0.2,-0.3, 0.3,0.2,-0.3,-0.5,0.5,0.8,1.0,1.5,2.6,1.8,
  1.9,1.5,1.6,1.7,0.9,-0.3,-1.55,-1.2,-1.3,-1.1, -0.8,-0.5,0.4,1.2,0.2,-1.0,-1.55,-1.2,-1.6,-1.9,
  -1.0,-1.3,-0.9,-1.0,-0.8,-1.2,-1.25,-0.8,0.1,0.4, 1.2,1.9,2.3,2.7,2.2,1.7,2.0,1.1,-0.4,-0.9,
  -1.2,-1.9,-2.3,-2.8,-1.5,-1.2,-2.0,-0.8,-0.7,0.1, 0.6,0.5,0.9,0.9,1.3,2.2,2.9,2.8,1.9,1.5,
  1.0,1.3,0.8,1.1,0.9,1.2,0.7,1.0,1.5,0.3, -1.3,-1.6,-1.85,-1.9,-3.05,-2.0,-2.35,-0.9,-2.35,0.0,
  0.5,0.8,0.9,1.0,0.9,0.8,0.5,0.0,-0.1,1.2, 0.4,0.4,0.9,0.9
];

const youngSeries = [young1, young2, young3, young4, young5, young6, young7, young8, young9, young10];
const youngColors = ["#46397e", "#8e2f2c", "#3c8ca8", "#3d66a0", "#93b657",
                     "#7e66a6", "#e48a3a", "#ae9fcb", "#8db5d8", "#eeb287"];
const olderSeries = [older1, older2, older3, older4, older5, older6, older7, older8, older9, older10];
const olderColors = ["#403579", "#a1611f", "#4a93ae", "#4f7ab5", "#9abb5a",
                     "#8066a3", "#e5934b", "#a9a0cf", "#92bedb", "#efb285"];

const scans = ic1Avg.map((_, i) => i + 1);

Chart.defaults.font.family = "Lato";
Chart.defaults.color = "#111111";

const axisGrey = "#868686";

// text label sitting inside a panel ("Young adults" / "Older adults")
const panelLabel = {
  id: "panelLabel",
  afterDatasetsDraw(chart, args, opts) {
    if (!opts.text) return;
    const { ctx, chartArea, scales } = chart;
    ctx.save();
    ctx.font = "27px Lato";
    ctx.fillStyle = "#111111";
    ctx.textBaseline = "middle";
    ctx.fillText(opts.text, chartArea.left + 145, scales.y.getPixelForValue(opts.y));
    ctx.restore();
  }
};

// the legend lives in the chart area; move it over to the right hand side
const legendToRight = {
  id: "legendToRight",
  afterLayout(chart) {
    const legend = chart.legend;
    legend.left = chart.chartArea.right - 261;
    legend.right = chart.width;
    legend.width = legend.right - legend.left;
  }
};

function zeroAxis() {
  return {
    position: { y: 0 },
    ticks: { display: false },
    grid: { drawOnChartArea: false, drawTicks: true, tickLength: 6, color: axisGrey, lineWidth: 1.6 },
    border: { color: axisGrey, width: 2.5 }
  };
}

function intensityAxis() {
  return {
    min: -6,
    max: 6,
    afterFit(scale) { scale.width = 70; },
    ticks: { stepSize: 2, padding: 11, color: "#111111", font: { size: 18 } },
    grid: { drawOnChartArea: false, tickLength: 7, color: axisGrey, lineWidth: 1.5 },
    border: { color: axisGrey, width: 1.5 },
    title: {
      display: true,
      text: "Intensity",
      color: "#000000",
      padding: { top: 11, bottom: 0 },
      font: { size: 21, weight: "bold" }
    }
  };
}

function subjectSets(series, colors) {
  return series.map((data, i) => ({
    label: "Subject " + (i + 1),
    data: data,
    borderColor: colors[i],
    backgroundColor: colors[i],
    borderWidth: 3,
    pointRadius: 0,
    tension: 0,
    order: series.length - i
  }));
}

function panelConfig(series, colors, label) {
  return {
    type: "line",
    data: { labels: scans, datasets: subjectSets(series, colors) },
    options: {
      responsive: false,
      animation: false,
      layout: { padding: { left: 0, right: 27, top: 0, bottom: 0 } },
      scales: { x: zeroAxis(), y: intensityAxis() },
      plugins: {
        legend: { display: false },
        tooltip: { enabled: false },
        panelLabel: label
      }
    },
    plugins: [panelLabel]
  };
}

const youngChart = new Chart(
  document.getElementById("youngChart"),
  panelConfig(youngSeries, youngColors, { text: "Young adults", y: 4.39 })
);

const ic1Chart = new Chart(document.getElementById("ic1Chart"), {
  type: "line",
  data: {
    labels: scans,
    datasets: [
      {
        label: "IC1 Group Avg Timecourse",
        data: ic1Avg,
        borderColor: "#4a6db3",
        backgroundColor: "#4a6db3",
        borderWidth: 3.2,
        pointRadius: 0,
        tension: 0,
        clip: false
      },
      {
        label: "Talking",
        data: talking,
        borderColor: "#8cb04a",
        backgroundColor: "#8cb04a",
        borderWidth: 3.2,
        pointRadius: 0,
        tension: 0,
        clip: false
      }
    ]
  },
  options: {
    responsive: false,
    animation: false,
    layout: { padding: { left: 70, right: 27, top: 0, bottom: 0 } },
    scales: {
      x: zeroAxis(),
      y: { display: false, min: -3.73, max: 6.5 }
    },
    plugins: {
      legend: {
        position: "chartArea",
        align: "start",
        labels: {
          usePointStyle: true,
          pointStyle: "line",
          pointStyleWidth: 50,
          padding: 11,
          color: "#000000",
          font: { size: 17 }
        }
      },
      title: {
        display: true,
        position: "bottom",
        fullSize: false,
        text: "Time (scans)",
        color: "#000000",
        padding: 0,
        font: { size: 20, weight: "bold" }
      },
      tooltip: { enabled: false }
    }
  },
  plugins: [legendToRight]
});

const olderChart = new Chart(
  document.getElementById("olderChart"),
  panelConfig(olderSeries, olderColors, { text: "Older adults", y: 4.63 })
);
</script>
</body>
</html>
